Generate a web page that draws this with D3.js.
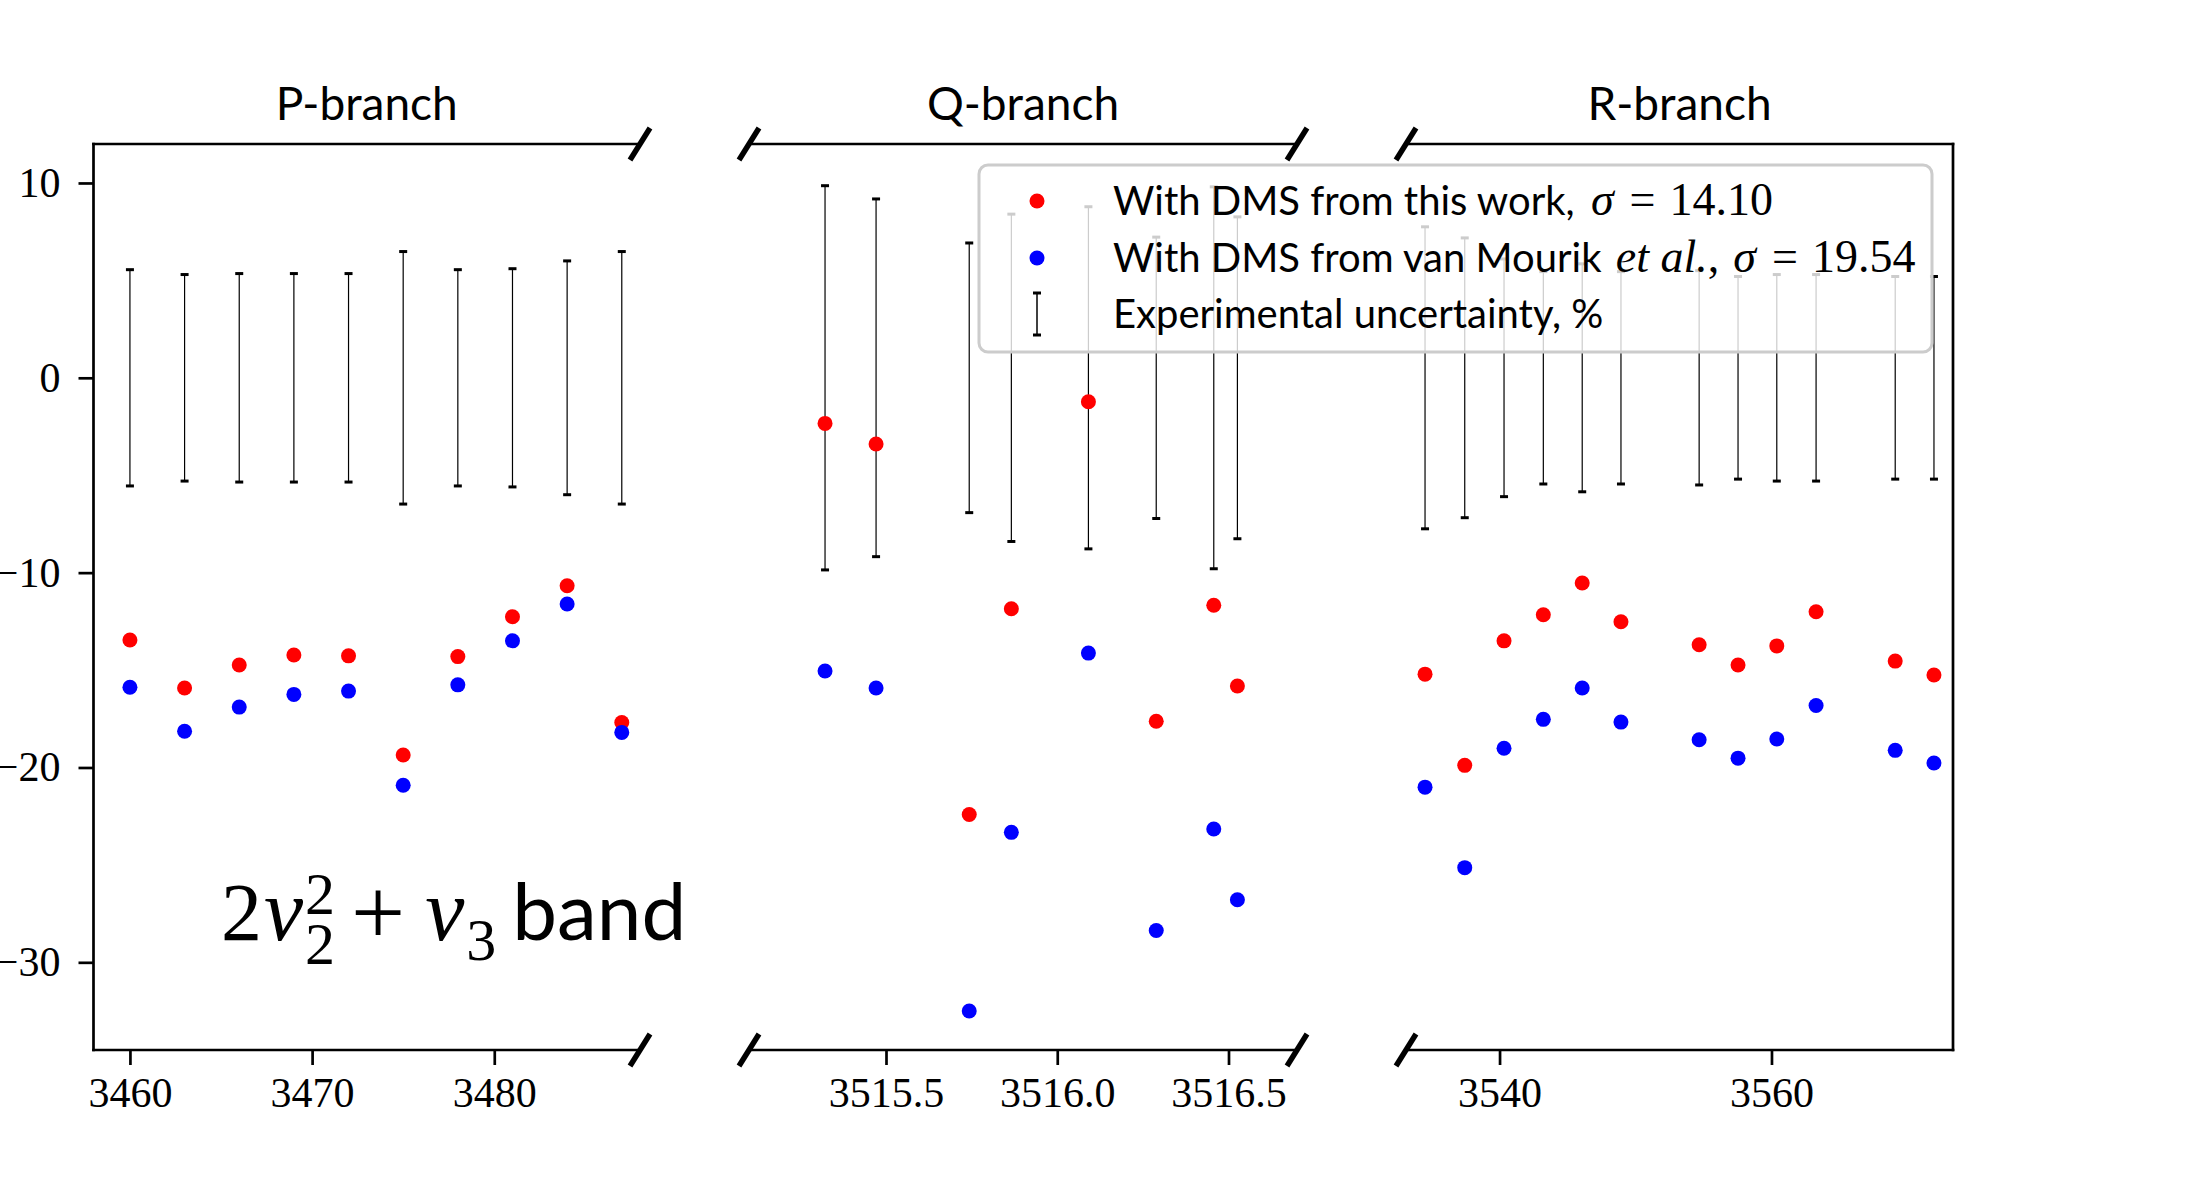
<!DOCTYPE html>
<html>
<head>
<meta charset="utf-8">
<script src="https://cdn.jsdelivr.net/npm/d3@7/dist/d3.min.js"></script>
<style>
  body { margin: 0; background: #fff; }
</style>
</head>
<body>
<svg id="chart" width="2193" height="1200"></svg>
<script>
  // P-branch
  var pX = [3460, 3463, 3466, 3469, 3472, 3475, 3478, 3481, 3484, 3487]
  var pThis = [-13.46, -15.92, -14.74, -14.23, -14.27, -19.36, -14.31, -12.26, -10.67, -17.69]
  var pMourik = [-15.88, -18.14, -16.9, -16.25, -16.08, -20.91, -15.76, -13.5, -11.61, -18.2]
  var pErr = [5.55, 5.3, 5.35, 5.35, 5.35, 6.48, 5.55, 5.6, 6.0, 6.48]

  // Q-branch
  var qX = [3515.322, 3515.471, 3515.743, 3515.866, 3516.091, 3516.289, 3516.457, 3516.526]
  var qThis = [-2.34, -3.4, -22.41, -11.85, -1.23, -17.63, -11.67, -15.82]
  var qMourik = [-15.05, -15.92, -32.5, -23.33, -14.13, -28.37, -23.16, -26.79]
  var qErr = [9.86, 9.18, 6.92, 8.4, 8.78, 7.22, 9.8, 8.26]

  // R-branch
  var rX = [3534.52, 3537.44, 3540.33, 3543.22, 3546.08, 3548.93, 3554.68, 3557.54, 3560.39, 3563.28, 3569.1, 3571.95]
  var rThis = [-15.21, -19.89, -13.5, -12.16, -10.53, -12.52, -13.7, -14.74, -13.76, -12.01, -14.54, -15.25]
  var rMourik = [-21.01, -25.14, -19.01, -17.53, -15.92, -17.67, -18.58, -19.52, -18.54, -16.82, -19.12, -19.77]
  var rErr = [7.75, 7.18, 6.1, 5.45, 5.85, 5.45, 5.5, 5.2, 5.3, 5.3, 5.2, 5.2]

  var titles = ["P-branch", "Q-branch", "R-branch"]
  var xDomains = [[3458, 3488], [3515.1, 3516.7], [3533.12, 3573.35]]
  var xTicks = [[3460, 3470, 3480], [3515.5, 3516.0, 3516.5], [3540, 3560]]
  var yDomain = [-34.5, 12]
  var yTicks = [10, 0, -10, -20, -30]

  var serif = "'Liberation Serif', 'Times New Roman', serif"
  var sans = "Lato, 'Open Sans', sans-serif"

  var svg = d3.select('#chart')

  // layout of the three broken panels
  var yTop = 144, yBottom = 1050
  var boxes = [
    { x0: 93.5, x1: 640, left: true, right: false },
    { x0: 749, x1: 1297, left: false, right: false },
    { x0: 1406, x1: 1953, left: false, right: true }
  ]
  var series = [
    { x: pX, a: pThis, b: pMourik, e: pErr },
    { x: qX, a: qThis, b: qMourik, e: qErr },
    { x: rX, a: rThis, b: rMourik, e: rErr }
  ]

  var y = d3.scaleLinear().domain(yDomain).range([yBottom, yTop])

  function fmtMinus(d) {
    return d < 0 ? '\u2212' + Math.abs(d) : String(d)
  }

  boxes.forEach(function (box, i) {
    var s = series[i]
    var x = d3.scaleLinear().domain(xDomains[i]).range([box.x0, box.x1])
    var g = svg.append('g')
    var pts = s.x.map(function (v, k) {
      return { x: v, a: s.a[k], b: s.b[k], e: s.e[k] }
    })

    // error bars around zero
    var eb = g.append('g').selectAll('g').data(pts).enter().append('g')
    eb.append('line')
      .attr('x1', function (d) { return x(d.x) })
      .attr('x2', function (d) { return x(d.x) })
      .attr('y1', function (d) { return y(d.e) })
      .attr('y2', function (d) { return y(-d.e) })
      .attr('stroke', '#000').attr('stroke-width', 1.2)
    eb.selectAll('.cap').data(function (d) { return [d.e, -d.e].map(function (v) { return { x: d.x, v: v } }) })
      .enter().append('line')
      .attr('x1', function (d) { return x(d.x) - 4 })
      .attr('x2', function (d) { return x(d.x) + 4 })
      .attr('y1', function (d) { return y(d.v) })
      .attr('y2', function (d) { return y(d.v) })
      .attr('stroke', '#000').attr('stroke-width', 3)

    g.append('g').selectAll('circle').data(pts).enter().append('circle')
      .attr('cx', function (d) { return x(d.x) })
      .attr('cy', function (d) { return y(d.a) })
      .attr('r', 7.5).attr('fill', 'red')
    g.append('g').selectAll('circle').data(pts).enter().append('circle')
      .attr('cx', function (d) { return x(d.x) })
      .attr('cy', function (d) { return y(d.b) })
      .attr('r', 7.5).attr('fill', 'blue')

    // spines
    var sp = g.append('g').attr('stroke', '#000').attr('stroke-width', 2.7).attr('stroke-linecap', 'square')
    sp.append('line').attr('x1', box.x0).attr('x2', box.x1).attr('y1', yTop).attr('y2', yTop)
    sp.append('line').attr('x1', box.x0).attr('x2', box.x1).attr('y1', yBottom).attr('y2', yBottom)
    if (box.left) sp.append('line').attr('x1', box.x0).attr('x2', box.x0).attr('y1', yTop).attr('y2', yBottom)
    if (box.right) sp.append('line').attr('x1', box.x1).attr('x2', box.x1).attr('y1', yTop).attr('y2', yBottom)

    // break marks
    var breaks = []
    if (!box.left) breaks.push(box.x0)
    if (!box.right) breaks.push(box.x1)
    breaks.forEach(function (bx) {
      [yTop, yBottom].forEach(function (by) {
        g.append('line')
          .attr('x1', bx - 10).attr('y1', by + 16)
          .attr('x2', bx + 10).attr('y2', by - 16)
          .attr('stroke', '#000').attr('stroke-width', 5.5)
      })
    })

    // x axis
    var xAxis = d3.axisBottom(x).tickValues(xTicks[i]).tickSize(15).tickPadding(12)
      .tickFormat(i === 1 ? d3.format('.1f') : d3.format('d'))
    var ax = g.append('g').attr('transform', 'translate(0,' + yBottom + ')').call(xAxis)
    ax.select('.domain').remove()
    ax.selectAll('.tick line').attr('stroke-width', 2.7)
    ax.selectAll('.tick text').attr('font-family', serif).attr('font-size', 42).attr('fill', '#000')

    if (box.left) {
      var yAxis = d3.axisLeft(y).tickValues(yTicks).tickSize(15).tickPadding(18).tickFormat(fmtMinus)
      var ay = g.append('g').attr('transform', 'translate(' + box.x0 + ',0)').call(yAxis)
      ay.select('.domain').remove()
      ay.selectAll('.tick line').attr('stroke-width', 2.7)
      ay.selectAll('.tick text').attr('font-family', serif).attr('font-size', 42).attr('fill', '#000')
    }

    g.append('text')
      .attr('x', (box.x0 + box.x1) / 2).attr('y', 120)
      .attr('text-anchor', 'middle')
      .attr('font-family', sans).attr('font-size', 46)
      .text(titles[i])
  })

  // band label, laid out piece by piece
  var band = svg.append('g')
  var cx = 221, base = 940
  function piece(txt, fam, size, style, dy) {
    var t = band.append('text').attr('x', cx).attr('y', base + (dy || 0))
      .attr('font-family', fam).attr('font-size', size)
      .attr('font-style', style || 'normal').text(txt)
    return t.node().getComputedTextLength()
  }
  cx += piece('2', serif, 82) + 2
  cx += piece('\u03BD', serif, 88, 'italic') + 2
  var w1 = piece('2', serif, 60, 'normal', -26)
  var w2 = piece('2', serif, 60, 'normal', 24)
  cx += Math.max(w1, w2) + 16
  cx += piece('+', serif, 96, 'normal', 4) + 20
  cx += piece('\u03BD', serif, 88, 'italic') + 2
  cx += piece('3', serif, 60, 'normal', 20) + 16
  piece('band', sans, 80)

  // legend
  var lg = svg.append('g')
  lg.append('rect')
    .attr('x', 979).attr('y', 165).attr('width', 953).attr('height', 187)
    .attr('rx', 9).attr('fill', '#fff').attr('fill-opacity', 0.8)
    .attr('stroke', '#cccccc').attr('stroke-width', 3)
  var rows = [201, 258, 314]
  lg.append('circle').attr('cx', 1037).attr('cy', rows[0]).attr('r', 7.5).attr('fill', 'red')
  lg.append('circle').attr('cx', 1037).attr('cy', rows[1]).attr('r', 7.5).attr('fill', 'blue')
  lg.append('line').attr('x1', 1037).attr('x2', 1037).attr('y1', rows[2] - 21).attr('y2', rows[2] + 21)
    .attr('stroke', '#000').attr('stroke-width', 1.5)
  ;[rows[2] - 21, rows[2] + 21].forEach(function (cy) {
    lg.append('line').attr('x1', 1033).attr('x2', 1041).attr('y1', cy).attr('y2', cy)
      .attr('stroke', '#000').attr('stroke-width', 3)
  })

  // [text, family, style, dx]
  var legendParts = [
    [['With DMS from this work, ', sans, 'normal', 0], ['\u03C3', serif, 'italic', 6], ['=', serif, 'normal', 16], ['14.10', serif, 'normal', 14]],
    [['With DMS from van Mourik ', sans, 'normal', 0], ['et al.', serif, 'italic', 4], [',', serif, 'normal', 0], ['\u03C3', serif, 'italic', 14], ['=', serif, 'normal', 16], ['19.54', serif, 'normal', 14]],
    [['Experimental uncertainty, %', sans, 'normal', 0]]
  ]
  legendParts.forEach(function (parts, r) {
    var t = lg.append('text').attr('x', 1113).attr('y', rows[r] + 14).attr('font-size', 40)
    parts.forEach(function (p) {
      t.append('tspan').attr('font-family', p[1]).attr('font-style', p[2]).attr('dx', p[3])
        .attr('font-size', p[1] === serif ? 46 : 40).text(p[0])
    })
  })
</script>
</body>
</html>
